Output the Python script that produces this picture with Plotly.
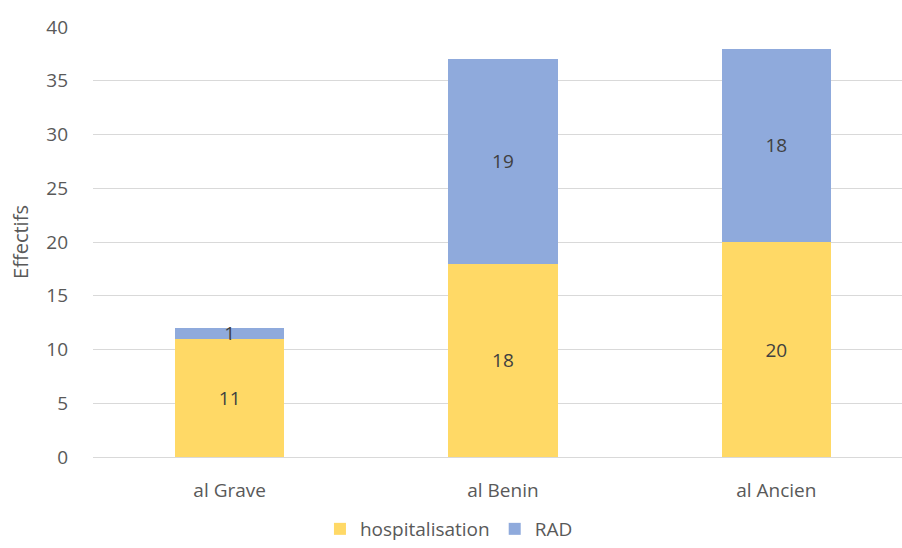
import plotly.graph_objects as go

categories = ["al Grave", "al Benin", "al Ancien"]
hospitalisation = [11, 18, 20]
rad = [1, 19, 18]
y_ticks = [0, 5, 10, 15, 20, 25, 30, 35, 40]

FONT = "Open Sans, Noto Sans, sans-serif"
TEXT = "#595959"
LABEL = "#404040"
SIZE = 19

fig = go.Figure()
fig.add_trace(go.Bar(
    name="hospitalisation", x=categories, y=hospitalisation,
    marker=dict(color="#FFD966", line=dict(width=0)),
    text=hospitalisation, textposition="inside", insidetextanchor="middle",
    textangle=0, constraintext="none",
    textfont=dict(color=LABEL, size=SIZE, family=FONT), width=0.4,
))
fig.add_trace(go.Bar(
    name="RAD", x=categories, y=rad,
    marker=dict(color="#8FAADC", line=dict(width=0)),
    text=rad, textposition="inside", insidetextanchor="middle",
    textangle=0, constraintext="none",
    textfont=dict(color=LABEL, size=SIZE, family=FONT), width=0.4,
))

fig.update_layout(
    barmode="stack",
    width=902, height=548,
    margin=dict(l=93, r=0, t=27, b=91),
    paper_bgcolor="white", plot_bgcolor="white",
    font=dict(family=FONT, color=TEXT, size=SIZE),
    uniformtext=dict(minsize=SIZE, mode="show"),
    legend=dict(orientation="h", x=0.44, xanchor="center",
                yref="container", y=0.0, yanchor="bottom",
                font=dict(size=SIZE, color=TEXT), traceorder="normal"),
    yaxis=dict(range=[0, 40], tickvals=y_ticks, showgrid=True, gridcolor="#d9d9d9",
               gridwidth=1, zeroline=False, ticks="", ticklabelstandoff=24,
               automargin=False,
               tickfont=dict(size=SIZE, color=TEXT),
               title=dict(text="Effectifs", font=dict(size=20, color=TEXT), standoff=12)),
    xaxis=dict(range=[-0.5, 2.46], showline=True, linecolor="#d9d9d9", linewidth=1,
               automargin=False,
               ticks="", ticklabelstandoff=16, tickfont=dict(size=SIZE, color=TEXT)),
)

fig.write_html("out.html")
